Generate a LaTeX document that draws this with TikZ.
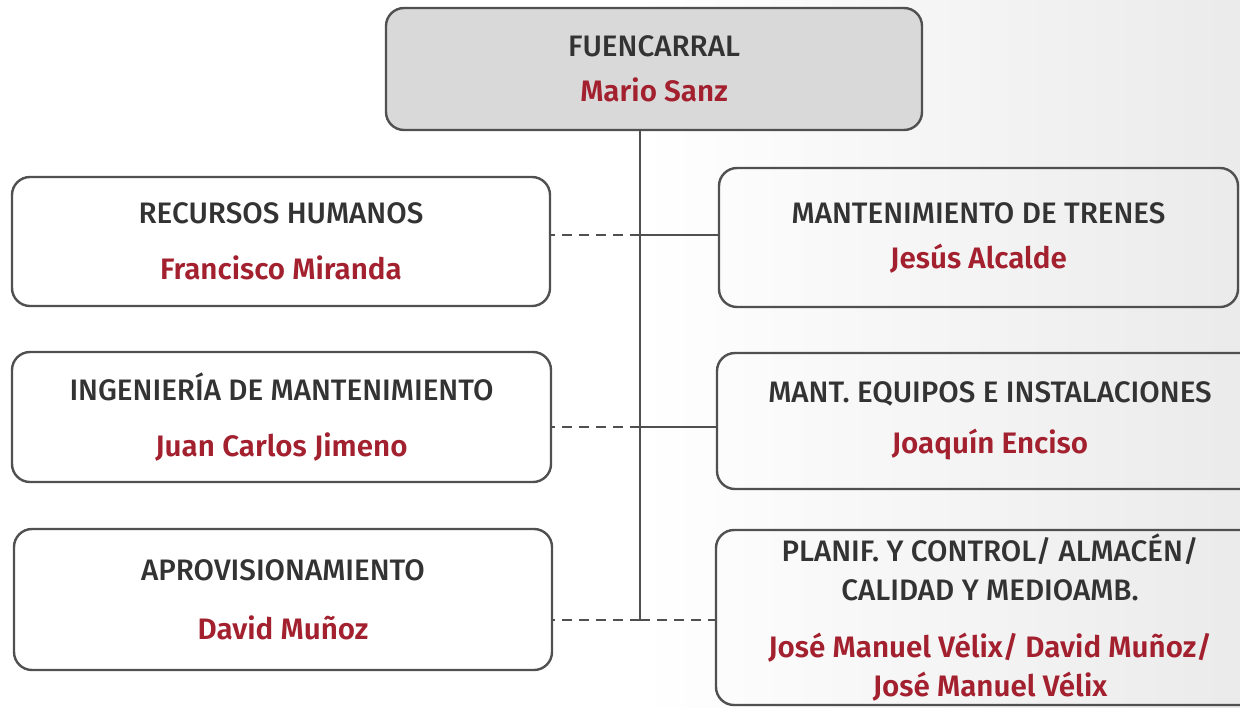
\documentclass[tikz,border=0pt]{standalone}
\usepackage{fontspec}
\setmainfont{Fira Sans}
\newfontfamily\titlefont{Fira Sans Medium}
\newfontfamily\namefont{Fira Sans SemiBold}
\usepackage{xcolor}
\definecolor{linegray}{HTML}{505050}
\definecolor{titlegray}{HTML}{333333}
\definecolor{namered}{HTML}{A3202F}
\definecolor{headfill}{HTML}{D9D9D9}
\newcommand{\titulo}[1]{{\titlefont\color{titlegray}#1}}
\newcommand{\nombre}[1]{{\namefont\color{namered}#1}}
\newcommand{\unidad}[3][4pt]{\titulo{#2}\\[#1]\nombre{#3}}

\begin{document}
\begin{tikzpicture}[x=0.5pt,y=-0.5pt,
    every node/.style={rounded corners=9pt, draw=linegray, line width=1.2pt, align=center,
      font=\fontsize{14.8}{19.5}\selectfont, inner sep=0pt},
    conn/.style={draw=linegray, line width=1.2pt},
    guion/.style={conn, dash pattern=on 5pt off 3.5pt}]
    \clip (0,0) rectangle (1240,707);
    \fill[left color=white, right color=black!8, draw=none] (640,0) rectangle (1240,707);

    \node[fill=headfill, minimum width=268pt, minimum height=61pt] (fuen) at (654,69)
      {\unidad[3pt]{FUENCARRAL}{Mario Sanz}};

    \node[minimum width=269pt, minimum height=64.5pt] (rrhh) at (281,241.5)
      {\unidad[8.5pt]{RECURSOS HUMANOS}{Francisco Miranda}};
    \node[minimum width=269.5pt, minimum height=65pt] (ingm) at (281.5,417)
      {\unidad[8.5pt]{INGENIERÍA DE MANTENIMIENTO}{Juan Carlos Jimeno}};
    \node[minimum width=269pt, minimum height=70.5pt] (apro) at (283,599.5)
      {\unidad[10pt]{APROVISIONAMIENTO}{David Muñoz}};

    \node[minimum width=259.5pt, minimum height=69.5pt] (trenes) at (978.5,237.5)
      {\unidad[3pt]{MANTENIMIENTO DE TRENES}{Jesús Alcalde}};
    \node[minimum width=273pt, minimum height=68pt] (equipos) at (990,421)
      {\unidad[6pt]{MANT. EQUIPOS E INSTALACIONES}{Joaquín Enciso}};
    \node[minimum width=274pt, minimum height=87.5pt] (planif) at (990,617.5)
      {\titulo{PLANIF. Y CONTROL/ ALMACÉN/}\\\titulo{CALIDAD Y MEDIOAMB.}\\[9pt]
       \nombre{José Manuel Vélix/ David Muñoz/}\\\nombre{José Manuel Vélix}};

    \coordinate (j1) at (640,235);
    \coordinate (j2) at (640,427);
    \coordinate (j3) at (640,620);

    \draw[conn] (fuen.south -| j3) -- (j3);
    \draw[guion] (j1) -- (j1 -| rrhh.east);
    \draw[conn] (j1) -- (j1 -| trenes.west);
    \draw[guion] (j2) -- (j2 -| ingm.east);
    \draw[conn] (j2) -- (j2 -| equipos.west);
    \draw[guion] (j3) -- (j3 -| apro.east);
    \draw[guion] (j3) -- (j3 -| planif.west);

  \end{tikzpicture}
\end{document}
